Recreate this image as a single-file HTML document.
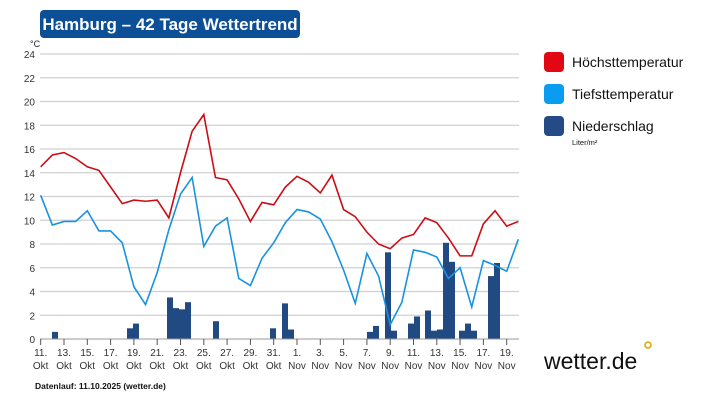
<!DOCTYPE html>
<html><head><meta charset="utf-8"><style>
body{margin:0;background:#fff;}
svg{display:block;font-family:"Liberation Sans",sans-serif;}
</style></head><body>
<svg width="717" height="403" viewBox="0 0 717 403" xmlns="http://www.w3.org/2000/svg">
<rect width="717" height="403" fill="#fff"/>
<rect x="40" y="10" width="260" height="28" rx="4" fill="#0d4f97"/>
<text x="170" y="30" fill="#fff" font-size="17" font-weight="bold" text-anchor="middle">Hamburg – 42 Tage Wettertrend</text>
<text x="30" y="47" font-size="9" fill="#222">°C</text>
<g id="grid" stroke="#d0d0d0" stroke-width="1.2"></g>
<g id="ylab" font-size="10" fill="#333" text-anchor="end"></g>
<g id="bars" fill="#214a83"></g>
<polyline id="hi" fill="none" stroke="#cc0d15" stroke-width="1.6"/>
<polyline id="lo" fill="none" stroke="#1992e0" stroke-width="1.6"/>
<line x1="40" y1="339" x2="519" y2="339" stroke="#999" stroke-width="1"/>
<g id="xt" stroke="#555" stroke-width="1"></g>
<g id="xl" font-size="10" fill="#333" text-anchor="middle"></g>
<text x="35" y="389" font-size="8.5" font-weight="bold" fill="#111">Datenlauf: 11.10.2025 (wetter.de)</text>
<rect x="544" y="52" width="20" height="20" rx="4" fill="#e30613"/>
<rect x="544" y="84" width="20" height="20" rx="4" fill="#0a9cf0"/>
<rect x="544" y="116" width="20" height="20" rx="4" fill="#244b85"/>
<text x="572" y="67" font-size="14" fill="#111">Höchsttemperatur</text>
<text x="572" y="99" font-size="14" fill="#111">Tiefsttemperatur</text>
<text x="572" y="131" font-size="14" fill="#111">Niederschlag</text>
<text x="572" y="145" font-size="7.5" fill="#111">Liter/m²</text>
<text x="544" y="369" font-size="23" fill="#111">wetter.de</text>
<circle cx="648" cy="345" r="3" fill="none" stroke="#e0a800" stroke-width="1.6"/>
<script>
const ns="http://www.w3.org/2000/svg";
const Y=v=>339-v*11.875, X=i=>40.7+i*11.65;
function el(p,t,a,txt){const e=document.createElementNS(ns,t);for(const k in a)e.setAttribute(k,a[k]);if(txt!==undefined)e.textContent=txt;document.getElementById(p).appendChild(e);}
for(let v=2;v<=24;v+=2){el("grid","line",{x1:40,x2:519,y1:Y(v),y2:Y(v)});}
for(let v=0;v<=24;v+=2){el("ylab","text",{x:35,y:Y(v)+4},v);}
const hi=[14.5,15.5,15.7,15.2,14.5,14.2,12.8,11.4,11.7,11.6,11.7,10.2,14,17.5,18.9,13.6,13.4,11.8,9.9,11.5,11.3,12.8,13.7,13.2,12.3,13.8,10.9,10.3,9,8,7.6,8.5,8.8,10.2,9.8,8.5,7,7,9.7,10.8,9.5,9.9];
const lo=[12.1,9.6,9.9,9.9,10.8,9.1,9.1,8.1,4.4,2.9,5.6,9.2,12.2,13.6,7.8,9.5,10.2,5.1,4.5,6.8,8.1,9.8,10.9,10.7,10.1,8.2,5.8,3,7.2,5.3,1.2,3.1,7.5,7.3,6.9,5.1,6,2.7,6.6,6.2,5.7,8.4];
document.getElementById("hi").setAttribute("points",hi.map((v,i)=>X(i)+","+Y(v)).join(" "));
document.getElementById("lo").setAttribute("points",lo.map((v,i)=>X(i)+","+Y(v)).join(" "));
const b=[[52,.6],[127,.9],[133,1.3],[167,3.5],[173,2.6],[179,2.5],[185,3.1],[213,1.5],[270,.9],[282,3],[288,.8],[367,.6],[373,1.1],[385,7.3],[391,.7],[408,1.3],[414,1.9],[425,2.4],[431,.7],[437,.8],[443,8.1],[449,6.5],[459,.7],[465,1.3],[471,.7],[488,5.3],[494,6.4]];
b.forEach(([x,v])=>el("bars","rect",{x:x,y:Y(v),width:6,height:v*11.875}));
const lab=[["11.","Okt"],["13.","Okt"],["15.","Okt"],["17.","Okt"],["19.","Okt"],["21.","Okt"],["23.","Okt"],["25.","Okt"],["27.","Okt"],["29.","Okt"],["31.","Okt"],["1.","Nov"],["3.","Nov"],["5.","Nov"],["7.","Nov"],["9.","Nov"],["11.","Nov"],["13.","Nov"],["15.","Nov"],["17.","Nov"],["19.","Nov"]];
lab.forEach((l,k)=>{const x=X(2*k);el("xt","line",{x1:x,x2:x,y1:339,y2:345});el("xl","text",{x:x,y:356},l[0]);el("xl","text",{x:x,y:369},l[1]);});
</script>
</svg>
</body></html>
